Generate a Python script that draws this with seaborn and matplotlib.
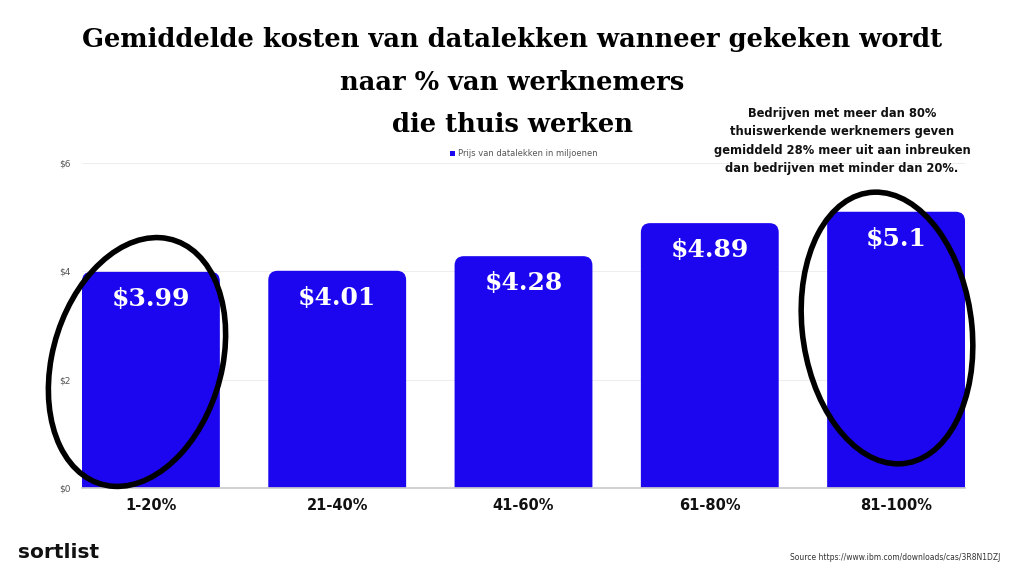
import matplotlib
matplotlib.use("Agg")
import matplotlib.pyplot as plt
import seaborn as sns
import pandas as pd
from matplotlib.patches import Ellipse, FancyBboxPatch, Patch

categories = ["1-20%", "21-40%", "41-60%", "61-80%", "81-100%"]
values = [3.99, 4.01, 4.28, 4.89, 5.1]
value_labels = ["$3.99", "$4.01", "$4.28", "$4.89", "$5.1"]
yticks = [0, 2, 4, 6]
ytick_labels = ["$0", "$2", "$4", "$6"]
series_name = "Prijs van datalekken in miljoenen"

sns.set_theme(style="white")
plt.rcParams['font.family'] = ['DejaVu Sans']

W, H = 1024, 576
fig = plt.figure(figsize=(W / 100, H / 100), dpi=100)
fig.patch.set_facecolor("white")

ax = fig.add_axes([82 / W, (H - 488) / H, (965 - 82) / W, (488 - 163) / H])
df = pd.DataFrame({"cat": categories, "val": values})
blue = "#1c06f0"
sns.barplot(data=df, x="cat", y="val", color=blue, width=0.74, ax=ax,
            saturation=1)
ax.set_xlim(-0.37, 4.37)
ax.set_ylim(0, 6)

# round the top corners of the bars
for p in list(ax.patches):
    x, w, h = p.get_x(), p.get_width(), p.get_height()
    p.set_visible(False)
    fb = FancyBboxPatch((x, -0.5), w, h + 0.5,
                        boxstyle="round,pad=0,rounding_size=0.05",
                        mutation_aspect=3.44, facecolor=blue, edgecolor="none",
                        zorder=2)
    ax.add_patch(fb)

ax.set_yticks(yticks)
ax.set_yticklabels(ytick_labels, fontsize=6.5, color="#555555")
ax.set_xlabel("")
ax.set_ylabel("")
ax.tick_params(axis="y", length=0, pad=8)
ax.tick_params(axis="x", length=0, pad=7)
for lbl in ax.get_xticklabels():
    lbl.set_fontsize(10.5)
    lbl.set_fontweight("bold")
    lbl.set_color("#111111")
for s in ["top", "right", "left"]:
    ax.spines[s].set_visible(False)
ax.spines["bottom"].set_color("#cccccc")
ax.yaxis.grid(True, color="#eeeeee", linewidth=0.8)
ax.set_axisbelow(True)

for i, (v, t) in enumerate(zip(values, value_labels)):
    ax.annotate(t, (i, v), xytext=(0, -11), textcoords="offset points",
                ha="center", va="top", color="white", fontsize=18,
                fontweight="bold", family="DejaVu Serif", zorder=5)

leg = ax.legend(handles=[Patch(facecolor=blue, edgecolor="none", label=series_name)],
                loc="upper center", bbox_to_anchor=(0.5, 1.065), frameon=False,
                fontsize=6, handlelength=0.6, handleheight=0.6, handletextpad=0.4)
for t in leg.get_texts():
    t.set_color("#555555")

# hand-drawn style circles (figure pixel coordinates)
def fig_ellipse(cx, cy, w, h, ang):
    e = Ellipse((cx / W, 1 - cy / H), w / W, h / H, angle=ang, fill=False,
                edgecolor="black", linewidth=4, transform=fig.transFigure)
    fig.add_artist(e)

fig_ellipse(137, 362, 172, 250, -6)
fig_ellipse(887, 328, 170, 272, 3)

# title
tfont = dict(ha="center", va="center", fontsize=18.5, fontweight="bold",
             family="DejaVu Serif", color="black")
fig.text(512 / W, 1 - 40 / H, "Gemiddelde kosten van datalekken wanneer gekeken wordt", **tfont)
fig.text(512 / W, 1 - 82 / H, "naar % van werknemers", **tfont)
fig.text(512 / W, 1 - 125 / H, "die thuis werken", **tfont)

fig.text(842 / W, 1 - 141 / H,
         "Bedrijven met meer dan 80%\nthuiswerkende werknemers geven\n"
         "gemiddeld 28% meer uit aan inbreuken\ndan bedrijven met minder dan 20%.",
         ha="center", va="center", fontsize=8.3, fontweight="bold",
         linespacing=1.55, color="#111111")

fig.text(18 / W, 1 - 552 / H, "sortlist", ha="left", va="center",
         fontsize=14.5, fontweight="bold", color="#111111")
fig.text(1000 / W, 1 - 557 / H, "Source https://www.ibm.com/downloads/cas/3R8N1DZJ",
         ha="right", va="center", fontsize=5.5, color="#333333")

fig.savefig("out.png", dpi=100, facecolor="white")
